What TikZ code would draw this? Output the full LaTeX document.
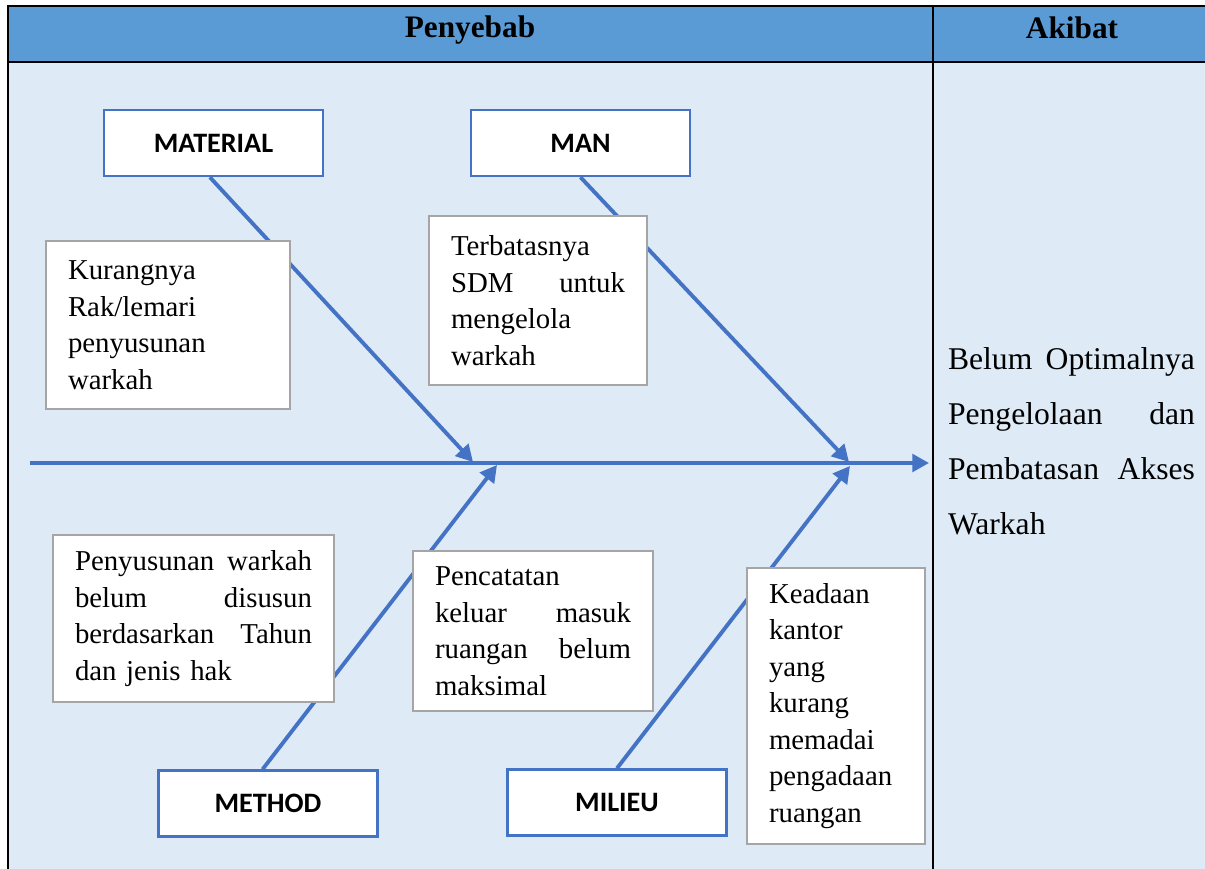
\documentclass[tikz,border=0pt]{standalone}
\usepackage{fontspec}
\setmainfont{Liberation Serif}
\newfontfamily\catfont{Carlito}
\usetikzlibrary{arrows.meta, backgrounds}
\definecolor{cHead}{HTML}{5B9BD5}
\definecolor{cBody}{HTML}{DEEAF6}
\definecolor{cLine}{HTML}{4472C4}
\definecolor{cFrame}{HTML}{A5A5A5}

\begin{document}
\begin{tikzpicture}[
  x=0.02cm, y=-0.02cm,
  >={Triangle[length=9.5pt, width=10pt]},
  catbox/.style={draw=cLine, line width=1.4pt, fill=white,
                 minimum width=4.38cm, minimum height=1.32cm,
                 font=\catfont\bfseries\fontsize{16}{19}\selectfont},
  causebox/.style={draw=cFrame, line width=1.3pt, fill=white,
                   inner xsep=0.44cm, inner ysep=0pt, align=left,
                   font=\fontsize{16.4}{20.8}\selectfont},
  title/.style={font=\bfseries\fontsize{17.8}{20}\selectfont},
  flow/.style={->, draw=cLine, line width=2.2pt},
]
\useasboundingbox (0,0) rectangle (1205,869);

% ---- Table header --------------------------------------------------------
\node[title] (cause) at (470,30) {Penyebab};
\node[title] (effect) at (1072,28) {Akibat};

% ---- Effect ------------------------------------------------------------
\node[text width=4.94cm, inner sep=0pt, align=left,
      font=\fontsize{18}{31.3}\selectfont] (result) at (1071.5,441)
  {Belum\hfill Optimalnya\\
   Pengelolaan\hfill dan\\
   Pembatasan\hfill Akses\\
   Warkah};

% ---- Main categories ---------------------------------------------------
\node[catbox] (material) at (213.5,143) {MATERIAL};
\node[catbox] (man) at (580.5,143) {MAN};
\node[catbox] (method) at (268,803.5) {METHOD};
\node[catbox] (milieu) at (617,802.5) {MILIEU};

% ---- Causes ------------------------------------------------------------
\node[causebox, text width=4cm, minimum height=3.36cm] (c1) at (168,325)
  {Kurangnya\\Rak/lemari\\penyusunan\\warkah};
\node[causebox, text width=3.48cm, minimum height=3.38cm] (c2) at (538,300.5)
  {Terbatasnya\\SDM\hfill untuk\\mengelola\\warkah};
\node[causebox, text width=4.74cm, minimum height=3.34cm] (c3) at (193.5,618.5)
  {Penyusunan\hfill warkah\\belum\hfill disusun\\berdasarkan\hfill Tahun\\dan jenis hak};
\node[causebox, text width=3.92cm, minimum height=3.2cm] (c4) at (533,631)
  {Pencatatan\\keluar\hfill masuk\\ruangan\hfill belum\\maksimal};
\node[causebox, text width=2.68cm, minimum height=5.52cm] (c5) at (836,706)
  {Keadaan\\kantor\\yang\\kurang\\memadai\\pengadaan\\ruangan};

% ---- Spine points ------------------------------------------------------
\coordinate (tail) at (30,463);
\coordinate (tip) at (929,463);
\coordinate (s1) at (473,462);
\coordinate (s2) at (849,462);
\coordinate (s3) at (497,465);
\coordinate (s4) at (850,466);

\begin{scope}[on background layer]
  % table cells
  \fill[cBody] (8,62) rectangle (1205,869);
  \fill[cHead] (8,6) rectangle (1205,62);
  \draw[line width=1.1pt] (1205,6) -- (8,6) -- (8,869);
  \draw[line width=0.8pt] (8,62) -- (1205,62);
  \draw[line width=1.1pt] (933,6) -- (933,869);
  % fishbone
  \draw[flow] (tail) -- (tip);
  \draw[flow] (material.264) -- (s1);
  \draw[flow] (man.south) -- (s2);
  \draw[flow] (method.99) -- (s3);
  \draw[flow] (milieu.north) -- (s4);
\end{scope}

\end{tikzpicture}
\end{document}
